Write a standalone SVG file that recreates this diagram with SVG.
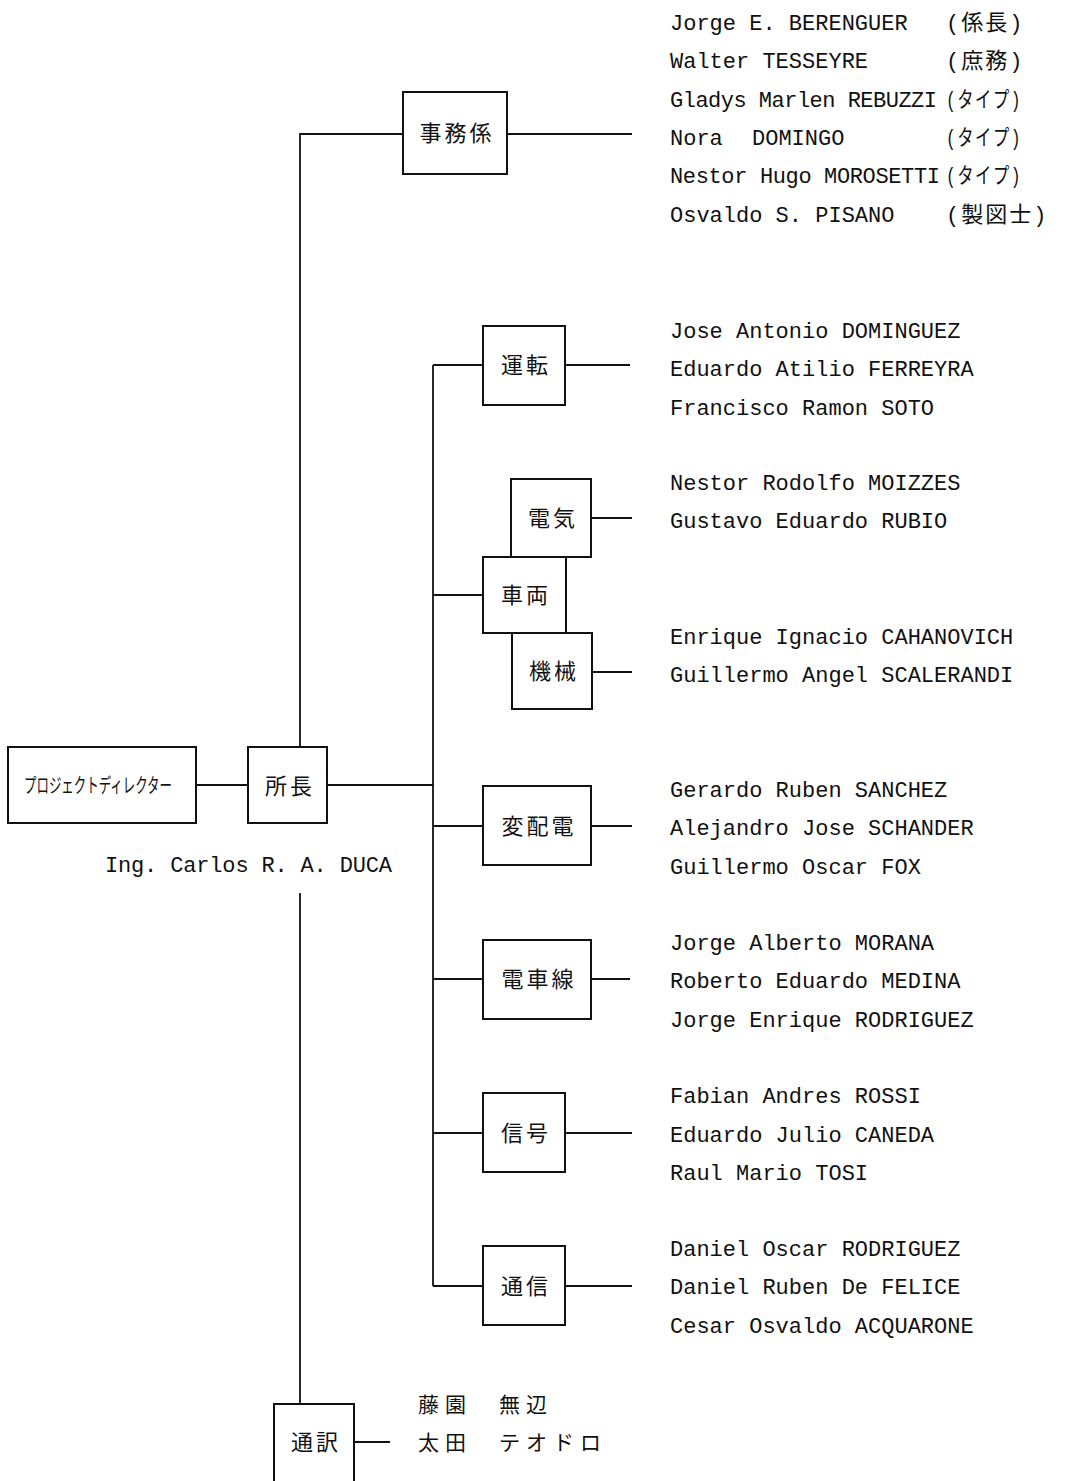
<svg xmlns="http://www.w3.org/2000/svg" width="1066" height="1481" viewBox="0 0 1066 1481">
<style>
.box{fill:#fff;stroke:#111;stroke-width:2}
.ln{stroke:#111;stroke-width:1.8;fill:none}
.bt{font-family:"Noto Sans CJK JP",sans-serif;font-size:22px;fill:#111;text-anchor:middle;letter-spacing:3px}
.nm{font-family:"Liberation Mono","Noto Sans CJK JP",monospace;font-size:22px;fill:#111}
.jp{font-family:"Liberation Mono","Noto Sans CJK JP",monospace;font-size:22px;fill:#111;letter-spacing:2px}
.jk{font-family:"Noto Sans CJK JP",sans-serif;font-size:21px;fill:#111;letter-spacing:6px}
</style>
<rect width="1066" height="1481" fill="#fff"/>
<g id="connectors">
<path class="ln" d="M196 785H248"/>
<path class="ln" d="M327 785H433"/>
<path class="ln" d="M300 747V134H403"/>
<path class="ln" d="M507 134H632"/>
<path class="ln" d="M300 893V1404"/>
<path class="ln" d="M354 1442H390"/>
<path class="ln" d="M433 365V1286"/>
<path class="ln" d="M433 365H483"/>
<path class="ln" d="M433 595H483"/>
<path class="ln" d="M433 826H483"/>
<path class="ln" d="M433 979H483"/>
<path class="ln" d="M433 1133H483"/>
<path class="ln" d="M433 1286H483"/>
<path class="ln" d="M565 365H630"/>
<path class="ln" d="M591 518H632"/>
<path class="ln" d="M592 672H632"/>
<path class="ln" d="M591 826H632"/>
<path class="ln" d="M591 979H630"/>
<path class="ln" d="M565 1133H632"/>
<path class="ln" d="M565 1286H632"/>
</g>
<g id="pd"><rect class="box" x="8" y="747" width="188" height="76"/><text x="24" y="793" font-family="Noto Sans CJK JP,sans-serif" font-size="20" fill="#111" textLength="148" lengthAdjust="spacingAndGlyphs">プロジェクトディレクター</text></g>
<g id="shocho"><rect class="box" x="248" y="747" width="79" height="76"/><text class="bt" x="290" y="794">所長</text></g>
<text class="nm" x="105" y="872" textLength="287">Ing. Carlos R. A. DUCA</text>
<g id="jimu"><rect class="box" x="403" y="92" width="104" height="82"/><text class="bt" x="457" y="141">事務係</text></g>
<g id="unten"><rect class="box" x="483" y="326" width="82" height="79"/><text class="bt" x="526" y="373">運転</text></g>
<g id="denki"><rect class="box" x="511" y="479" width="80" height="78"/><text class="bt" x="553" y="526">電気</text></g>
<g id="kikai"><rect class="box" x="512" y="633" width="80" height="76"/><text class="bt" x="554" y="679">機械</text></g>
<g id="sharyo"><rect class="box" x="483" y="557" width="83" height="76"/><text class="bt" x="526" y="603">車両</text></g>
<g id="henhaiden"><rect class="box" x="483" y="786" width="108" height="79"/><text class="bt" x="539" y="834">変配電</text></g>
<g id="denshasen"><rect class="box" x="483" y="940" width="108" height="79"/><text class="bt" x="539" y="987">電車線</text></g>
<g id="shingo"><rect class="box" x="483" y="1093" width="82" height="79"/><text class="bt" x="526" y="1141">信号</text></g>
<g id="tsushin"><rect class="box" x="483" y="1246" width="82" height="79"/><text class="bt" x="526" y="1294">通信</text></g>
<g id="tsuyaku"><rect class="box" x="274" y="1404" width="80" height="90"/><text class="bt" x="316" y="1450">通訳</text></g>
<g id="names">
<text class="nm" x="670" y="30">Jorge E. BERENGUER</text><text class="jp" x="946" y="30">(係長)</text>
<text class="nm" x="670" y="68">Walter TESSEYRE</text><text class="jp" x="946" y="68">(庶務)</text>
<text class="nm" x="670" y="107" textLength="267">Gladys Marlen REBUZZI</text><text class="jp" x="946" y="107" textLength="76" lengthAdjust="spacingAndGlyphs">(タイプ)</text>
<text class="nm" x="670" y="145">Nora <tspan x="752">DOMINGO</tspan></text><text class="jp" x="946" y="145" textLength="76" lengthAdjust="spacingAndGlyphs">(タイプ)</text>
<text class="nm" x="670" y="183" textLength="270">Nestor Hugo MOROSETTI</text><text class="jp" x="946" y="183" textLength="76" lengthAdjust="spacingAndGlyphs">(タイプ)</text>
<text class="nm" x="670" y="222">Osvaldo S. PISANO</text><text class="jp" x="946" y="222">(製図士)</text>
<text class="nm" x="670" y="338">Jose Antonio DOMINGUEZ</text>
<text class="nm" x="670" y="376">Eduardo Atilio FERREYRA</text>
<text class="nm" x="670" y="415">Francisco Ramon SOTO</text>
<text class="nm" x="670" y="490">Nestor Rodolfo MOIZZES</text>
<text class="nm" x="670" y="528">Gustavo Eduardo RUBIO</text>
<text class="nm" x="670" y="644">Enrique Ignacio CAHANOVICH</text>
<text class="nm" x="670" y="682">Guillermo Angel SCALERANDI</text>
<text class="nm" x="670" y="797">Gerardo Ruben SANCHEZ</text>
<text class="nm" x="670" y="835">Alejandro Jose SCHANDER</text>
<text class="nm" x="670" y="874">Guillermo Oscar FOX</text>
<text class="nm" x="670" y="950">Jorge Alberto MORANA</text>
<text class="nm" x="670" y="988">Roberto Eduardo MEDINA</text>
<text class="nm" x="670" y="1027">Jorge Enrique RODRIGUEZ</text>
<text class="nm" x="670" y="1103">Fabian Andres ROSSI</text>
<text class="nm" x="670" y="1142">Eduardo Julio CANEDA</text>
<text class="nm" x="670" y="1180">Raul Mario TOSI</text>
<text class="nm" x="670" y="1256">Daniel Oscar RODRIGUEZ</text>
<text class="nm" x="670" y="1294">Daniel Ruben De FELICE</text>
<text class="nm" x="670" y="1333">Cesar Osvaldo ACQUARONE</text>
<text class="jk" x="418" y="1412">藤園　無辺</text>
<text class="jk" x="418" y="1450">太田　テオドロ</text>
</g>
</svg>
